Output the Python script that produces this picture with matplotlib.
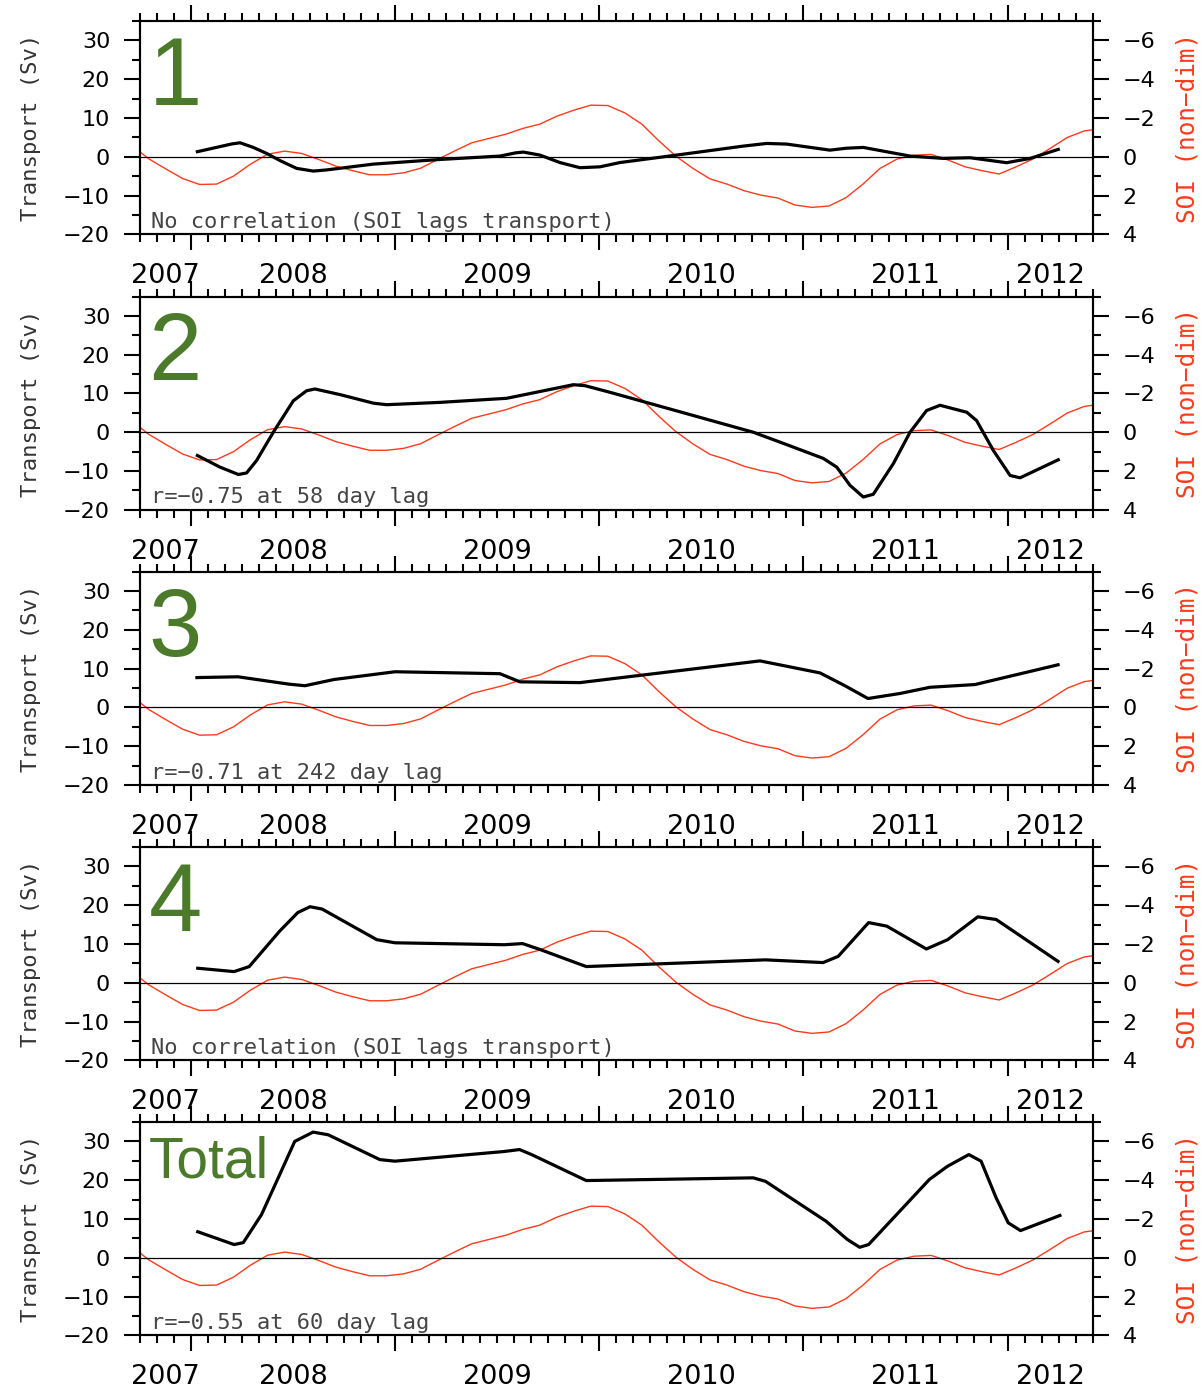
import numpy as np
import matplotlib
matplotlib.use('Agg')
from matplotlib import pyplot as plt
from matplotlib.ticker import MultipleLocator
from matplotlib.transforms import blended_transform_factory

# SOI, mid-month values from Sep 2007 to Jun 2012 (same curve in every panel)
soi_first_month = 2007 + 8.5 / 12
soi = [-0.6, 0.1, 0.62, 1.12,
       1.43, 1.41, 1.0, 0.38, -0.13, -0.29, -0.17, 0.14, 0.48, 0.72, 0.93, 0.93,
       0.83, 0.59, 0.14, -0.3, -0.72, -0.94, -1.16, -1.46, -1.68, -2.09, -2.40, -2.66,
       -2.64, -2.26, -1.68, -0.82, -0.03, 0.6, 1.14, 1.41, 1.75, 1.98, 2.13, 2.49,
       2.61, 2.54, 2.11, 1.41, 0.6, 0.12, -0.08, -0.12, 0.17, 0.52, 0.72, 0.89,
       0.52, 0.11, -0.43, -0.99, -1.33, -1.45]
soi_x = soi_first_month + np.arange(len(soi)) / 12

# transport (Sv), decimal year
t1_x = [2008.031, 2008.200, 2008.240, 2008.305, 2008.370, 2008.436, 2008.517, 2008.599,
        2008.664, 2008.893, 2009.220, 2009.513, 2009.590, 2009.628, 2009.709, 2009.807,
        2009.905, 2010.003, 2010.101, 2010.379, 2010.705, 2010.820, 2010.918, 2011.130,
        2011.210, 2011.293, 2011.522, 2011.685, 2011.816, 2011.995, 2012.110, 2012.248]
t1_y = [1.3, 3.3, 3.6, 2.4, 0.86, -1.0, -3.0, -3.7,
        -3.4, -1.9, -0.7, 0.17, 1.0, 1.2, 0.43, -1.5,
        -2.83, -2.6, -1.5, 0.43, 2.74, 3.43, 3.26, 1.7,
        2.2, 2.4, 0.17, -0.43, -0.26, -1.54, -0.43, 1.89]

t2_x = [2008.031, 2008.142, 2008.232, 2008.272, 2008.321, 2008.403, 2008.501, 2008.566,
        2008.607, 2008.730, 2008.893, 2008.958, 2009.220, 2009.546, 2009.709, 2009.873,
        2009.930, 2010.052, 2010.754, 2010.918, 2011.097, 2011.163, 2011.228, 2011.293,
        2011.342, 2011.440, 2011.522, 2011.603, 2011.669, 2011.800, 2011.848, 2011.930,
        2012.012, 2012.061, 2012.248]
t2_y = [-6.0, -9.0, -10.9, -10.5, -7.3, 0.0, 8.1, 10.7,
        11.15, 9.7, 7.5, 7.1, 7.7, 8.75, 10.5, 12.26,
        12.0, 10.3, 0.0, -3.2, -6.75, -9.0, -13.7, -16.7,
        -16.0, -8.1, 0.0, 5.6, 6.95, 5.15, 3.0, -4.7,
        -11.15, -11.75, -7.1]

t3_x = [2008.029, 2008.230, 2008.480, 2008.558, 2008.700, 2008.999, 2009.513, 2009.611,
        2009.905, 2010.787, 2011.081, 2011.203, 2011.316, 2011.473, 2011.620, 2011.840,
        2012.247]
t3_y = [7.7, 7.9, 6.0, 5.6, 7.2, 9.2, 8.7, 6.6,
        6.4, 12.0, 8.9, 5.6, 2.3, 3.6, 5.2, 5.9,
        11.0]

t4_x = [2008.033, 2008.211, 2008.285, 2008.434, 2008.523, 2008.583, 2008.642, 2008.910,
        2008.999, 2009.535, 2009.624, 2009.713, 2009.936, 2010.814, 2011.096, 2011.170,
        2011.319, 2011.408, 2011.602, 2011.706, 2011.854, 2011.944, 2012.247]
t4_y = [3.74, 2.87, 4.17, 13.3, 18.1, 19.6, 19.0, 11.1,
        10.3, 9.8, 10.1, 8.5, 4.17, 5.9, 5.2, 6.8,
        15.5, 14.6, 8.7, 11.1, 17.0, 16.3, 5.5]

t5_x = [2008.033, 2008.211, 2008.256, 2008.345, 2008.434, 2008.508, 2008.598, 2008.672,
        2008.925, 2008.999, 2009.535, 2009.609, 2009.668, 2009.936, 2010.754, 2010.814,
        2011.111, 2011.215, 2011.275, 2011.319, 2011.617, 2011.706, 2011.810, 2011.870,
        2011.944, 2012.003, 2012.063, 2012.256]
t5_y = [6.7, 3.4, 3.9, 11.1, 21.4, 30.0, 32.4, 31.7,
        25.3, 24.9, 27.4, 27.9, 26.6, 19.9, 20.6, 19.7,
        9.4, 4.7, 2.7, 3.4, 20.2, 23.6, 26.6, 24.9,
        15.4, 9.0, 7.0, 10.9]

panel_names = ['1', '2', '3', '4', 'Total']
panel_notes = ['No correlation (SOI lags transport)',
               'r=\u22120.75 at 58 day lag',
               'r=\u22120.71 at 242 day lag',
               'No correlation (SOI lags transport)',
               'r=\u22120.55 at 60 day lag']
years = [2007, 2008, 2009, 2010, 2011, 2012]

GREEN = '#4a7a2a'
RED = '#ff3a1c'
MONO = 'DejaVu Sans Mono'
W, H = 1202, 1392


def style_panel(ax, ax2):
    ax.set_xlim(2007.75, 2012 + 5 / 12)
    ax.set_ylim(-20, 35)
    ax2.set_ylim(4, -7)
    ax.xaxis.set_major_locator(MultipleLocator(1))
    ax.xaxis.set_minor_locator(MultipleLocator(1 / 12))
    ax.yaxis.set_major_locator(MultipleLocator(10))
    ax.yaxis.set_minor_locator(MultipleLocator(5))
    ax2.yaxis.set_major_locator(MultipleLocator(2))
    ax2.yaxis.set_minor_locator(MultipleLocator(1))
    ax.tick_params(axis='x', which='both', direction='out', top=True, bottom=True,
                   labelbottom=False, width=1.5)
    ax.tick_params(axis='x', which='major', length=11.5)
    ax.tick_params(axis='x', which='minor', length=5.6)
    for a in (ax, ax2):
        a.tick_params(axis='y', which='both', direction='out', width=1.5,
                      labelsize=16, pad=10)
        a.tick_params(axis='y', which='major', length=11.5)
        a.tick_params(axis='y', which='minor', length=5.6)
        for s in a.spines.values():
            s.set_linewidth(1.5)


def main():
    fig = plt.figure(figsize=(W / 100, H / 100), dpi=100)
    series = [(t1_x, t1_y), (t2_x, t2_y), (t3_x, t3_y), (t4_x, t4_y), (t5_x, t5_y)]
    tops = [21, 296.5, 571.7, 847, 1122]
    h = 213.3
    left, width = 140, 952.7
    for i, (tx, ty) in enumerate(series):
        ax = fig.add_axes([left / W, 1 - (tops[i] + h) / H, width / W, h / H])
        ax2 = ax.twinx()
        ax.set_zorder(ax2.get_zorder() + 1)
        ax.patch.set_visible(False)
        style_panel(ax, ax2)

        ax.axhline(0, color='k', lw=0.9)
        ax2.plot(soi_x, soi, color=RED, lw=1.0)
        ax.plot(tx, ty, color='k', lw=2.3, solid_joinstyle='round')

        ax.set_ylabel('Transport (Sv)', fontsize=16, color='#333333', family=MONO)
        ax.yaxis.set_label_coords(-0.104, 0.5)
        ax2.set_ylabel('SOI (non\u2212dim)', fontsize=17.5, color=RED, family=MONO)
        ax2.yaxis.set_label_coords(1.087, 0.5)

        size = 41 if panel_names[i] == 'Total' else 69
        ax.text(0.009, 0.935, panel_names[i], transform=ax.transAxes, fontsize=size,
                color=GREEN, family='Liberation Sans', ha='left', va='top')
        ax.text(0.012, 0.03, panel_notes[i], transform=ax.transAxes, fontsize=15.8,
                color='#444444', family=MONO, ha='left', va='baseline')

        x0, x1 = ax.get_xlim()
        trans = blended_transform_factory(ax.transData, ax.transAxes)
        for yr in years:
            xc = (max(yr, x0) + min(yr + 1, x1)) / 2
            ax.text(xc, -0.2297, str(yr), transform=trans, fontsize=19.5,
                    ha='center', va='baseline')

    fig.savefig('out.png', dpi=100)


if __name__ == "__main__":
    main()
